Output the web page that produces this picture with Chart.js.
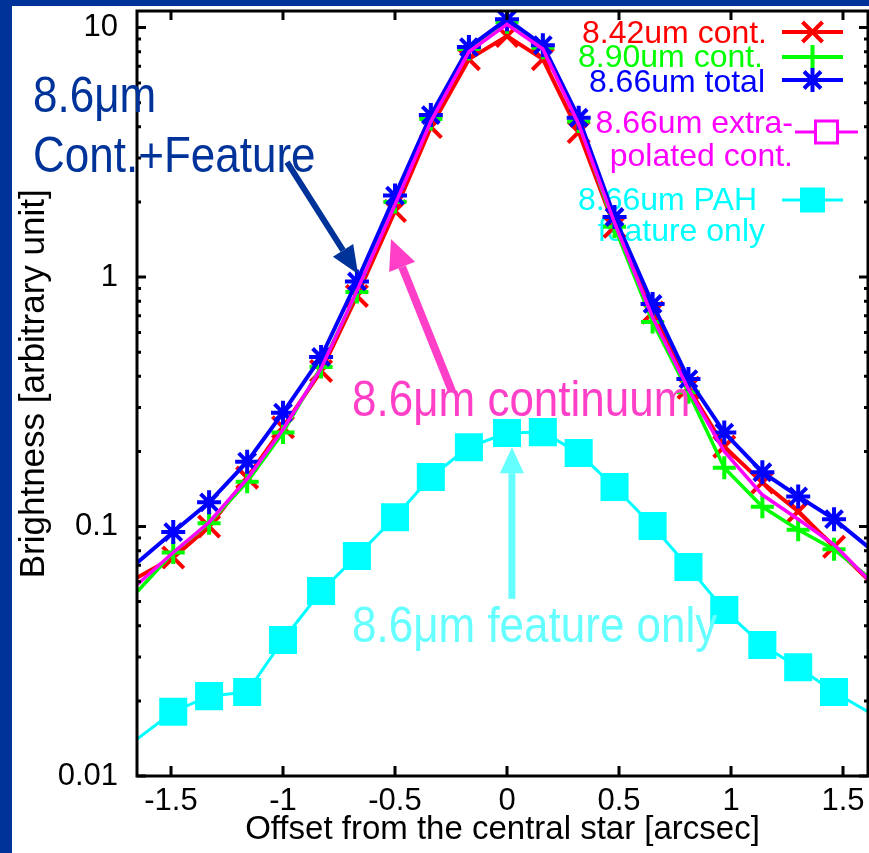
<!DOCTYPE html>
<html>
<head>
<meta charset="utf-8">
<script src="https://cdn.jsdelivr.net/npm/chart.js@4.4.1/dist/chart.umd.min.js"></script>
<style>
  html, body { margin: 0; padding: 0; background: #003399; overflow: hidden; }
  #wrap { position: absolute; left: 12px; top: 6px; width: 857px; height: 847px; background: #fff; }
</style>
</head>
<body>
<div id="wrap"><canvas id="psf" width="857" height="847"></canvas></div>
<script>
// offset from the central star [arcsec]; first and last entries are the line ends beyond the markers
const offsets   = [-1.65, -1.49, -1.33, -1.16, -1.00, -0.83, -0.67, -0.50, -0.34, -0.17, 0.00, 0.16, 0.32, 0.48, 0.65, 0.81, 0.97, 1.14, 1.30, 1.46, 1.64];
const cont842   = [0.0624, 0.0751, 0.100, 0.157, 0.250, 0.420, 0.84, 1.84, 3.99, 7.47, 9.25, 7.47, 3.81, 1.59, 0.72, 0.360, 0.209, 0.150, 0.115, 0.083, 0.058];
const cont890   = [0.0549, 0.0787, 0.103, 0.151, 0.238, 0.436, 0.87, 2.00, 4.30, 8.20, 10.5, 8.30, 4.20, 1.59, 0.66, 0.345, 0.172, 0.120, 0.097, 0.081, 0.060];
const total866  = [0.0718, 0.095, 0.125, 0.182, 0.286, 0.478, 0.96, 2.12, 4.46, 8.35, 10.8, 8.50, 4.35, 1.74, 0.78, 0.390, 0.238, 0.165, 0.132, 0.107, 0.079];
const extrap866 = [0.0586, 0.0787, 0.104, 0.155, 0.245, 0.430, 0.88, 1.95, 4.20, 8.00, 10.3, 8.20, 4.10, 1.65, 0.69, 0.355, 0.200, 0.134, 0.107, 0.0847, 0.058];
const pah866    = [0.0141, 0.0181, 0.0209, 0.0217, 0.0351, 0.0551, 0.0762, 0.109, 0.158, 0.208, 0.237, 0.239, 0.197, 0.144, 0.1005, 0.0688, 0.0463, 0.0335, 0.0273, 0.0217, 0.0175];

const seriesNames = [['8.42um cont.'], ['8.90um cont.'], ['8.66um total'], ['8.66um extra-', 'polated cont.'], ['8.66um PAH', 'feature only']];
const xTitle = 'Offset from the central star [arcsec]';
const yTitle = '  Brightness [arbitrary unit]';  // two leading spaces nudge it up a bit

const FONT = "'Liberation Sans', Arial, sans-serif";
const isEdge = i => i === 0 || i === offsets.length - 1;
const pts = vals => offsets.map((x, i) => ({ x, y: vals[i] }));

// slide annotations, placed in data units
const notes = [
  { text: '8.6\u03bcm', x: -2.116, y: 4.58, color: '#003399' },
  { text: 'Cont.+Feature', x: -2.116, y: 2.64, color: '#003399' },
  { text: '8.6\u03bcm continuum', x: -0.692, y: 0.277, color: '#ff3fc8' },
  { text: '8.6\u03bcm feature only', x: -0.692, y: 0.0344, color: '#66ffff' }
];
const arrows = [
  { from: [-0.982, 2.89], to: [-0.665, 1.028], color: '#003399', width: 6, head: 28, half: 12 },
  { from: [-0.246, 0.349], to: [-0.518, 1.42], color: '#ff3fc8', width: 8, head: 30, half: 14 },
  { from: [0.022, 0.0513], to: [0.022, 0.208], color: '#66ffff', width: 7, head: 26, half: 12 }
];

function marker(ctx, style, x, y, r, fill) {
  const d = r * Math.SQRT1_2;
  ctx.beginPath();
  if (style === 'cross' || style === 'star') {
    ctx.moveTo(x - r, y); ctx.lineTo(x + r, y);
    ctx.moveTo(x, y - r); ctx.lineTo(x, y + r);
  }
  if (style === 'crossRot' || style === 'star') {
    const k = style === 'star' ? d : r;
    ctx.moveTo(x - k, y - k); ctx.lineTo(x + k, y + k);
    ctx.moveTo(x + k, y - k); ctx.lineTo(x - k, y + k);
  }
  if (style === 'rect') {
    ctx.rect(x - r, y - r, 2 * r, 2 * r);
    if (fill) { ctx.fill(); return; }
  }
  ctx.stroke();
}

const framePlugin = {
  id: 'frame',
  afterDatasetsDraw(chart) {
    const { ctx, chartArea: a, scales: { x, y } } = chart;
    ctx.save();
    ctx.strokeStyle = '#000';
    ctx.lineWidth = 3;
    ctx.strokeRect(a.left, a.top, a.right - a.left, a.bottom - a.top);
    ctx.beginPath();
    x.ticks.forEach(t => {
      const px = x.getPixelForValue(t.value);
      ctx.moveTo(px, a.bottom); ctx.lineTo(px, a.bottom - 10);
      ctx.moveTo(px, a.top); ctx.lineTo(px, a.top + 9);
    });
    y.ticks.forEach(t => {
      const e = Math.floor(Math.log10(t.value) + 1e-9);
      const m = t.value / Math.pow(10, e);
      if (Math.abs(m - Math.round(m)) > 1e-6) return;
      const len = Math.round(m) === 1 ? 9 : 4;
      const py = y.getPixelForValue(t.value);
      ctx.moveTo(a.left, py); ctx.lineTo(a.left + len, py);
      ctx.moveTo(a.right, py); ctx.lineTo(a.right - len, py);
    });
    ctx.stroke();
    ctx.restore();
  }
};

// gnuplot-like key: text right aligned, sample to the right
const keyPlugin = {
  id: 'key',
  beforeDatasetsDraw(chart) {
    const { ctx } = chart;
    const rows = [
      { style: 'crossRot', right: [755], base: [37], y: 26, x0: 770, x1: 831, r: 10, lw: 4 },
      { style: 'cross', right: [751], base: [61], y: 51, x0: 770, x1: 831, r: 12, lw: 4 },
      { style: 'star', right: [753], base: [86], y: 74, x0: 770, x1: 831, r: 12, lw: 4 },
      { style: 'rect', right: [781, 781], base: [127, 160], y: 126, x0: 783, x1: 846, r: 11, lw: 3, open: true },
      { style: 'rect', right: [745, 753], base: [204, 235], y: 194, x0: 770, x1: 831, r: 12.5, lw: 3 }
    ];
    ctx.save();
    ctx.font = '32px ' + FONT;
    ctx.textAlign = 'right';
    ctx.textBaseline = 'alphabetic';
    rows.forEach((row, i) => {
      const c = chart.data.datasets[i].borderColor;
      ctx.fillStyle = c;
      seriesNames[i].forEach((line, j) => ctx.fillText(line, row.right[j], row.base[j]));
      ctx.strokeStyle = c;
      ctx.lineWidth = row.lw;
      ctx.beginPath(); ctx.moveTo(row.x0, row.y); ctx.lineTo(row.x1, row.y); ctx.stroke();
      const mx = (row.x0 + row.x1) / 2;
      if (row.open) {
        ctx.fillStyle = '#fff';
        ctx.fillRect(mx - row.r, row.y - row.r, 2 * row.r, 2 * row.r);
        marker(ctx, 'rect', mx, row.y, row.r, false);
      } else {
        ctx.fillStyle = c;
        ctx.lineWidth = 4;
        marker(ctx, row.style, mx, row.y, row.r, true);
      }
    });
    ctx.restore();
  }
};

const notesPlugin = {
  id: 'notes',
  afterDraw(chart) {
    const { ctx, scales: { x, y } } = chart;
    ctx.save();
    arrows.forEach(a => {
      const x0 = x.getPixelForValue(a.from[0]), y0 = y.getPixelForValue(a.from[1]);
      const x1 = x.getPixelForValue(a.to[0]), y1 = y.getPixelForValue(a.to[1]);
      const ang = Math.atan2(y1 - y0, x1 - x0);
      const bx = x1 - a.head * Math.cos(ang), by = y1 - a.head * Math.sin(ang);
      ctx.strokeStyle = a.color;
      ctx.fillStyle = a.color;
      ctx.lineWidth = a.width;
      ctx.beginPath(); ctx.moveTo(x0, y0); ctx.lineTo(bx, by); ctx.stroke();
      ctx.beginPath();
      ctx.moveTo(x1, y1);
      ctx.lineTo(bx + a.half * Math.sin(ang), by - a.half * Math.cos(ang));
      ctx.lineTo(bx - a.half * Math.sin(ang), by + a.half * Math.cos(ang));
      ctx.closePath();
      ctx.fill();
    });
    notes.forEach(n => {
      ctx.save();
      ctx.translate(x.getPixelForValue(n.x), y.getPixelForValue(n.y));
      ctx.scale(1, 1.12);
      ctx.font = '44px ' + FONT;
      ctx.fillStyle = n.color;
      ctx.textAlign = 'left';
      ctx.textBaseline = 'alphabetic';
      ctx.fillText(n.text, 0, 0);
      ctx.restore();
    });
    ctx.restore();
  }
};

const lineSet = (label, vals, color, width, style, radius, order) => ({
  label,
  data: pts(vals),
  borderColor: color,
  backgroundColor: color,
  borderWidth: width,
  pointStyle: style,
  pointRadius: c => isEdge(c.dataIndex) ? 0 : radius,
  pointBorderWidth: 4,
  pointBorderColor: color,
  pointBackgroundColor: color,
  tension: 0,
  fill: false,
  order
});

const ctx = document.getElementById('psf').getContext('2d');
new Chart(ctx, {
  type: 'line',
  data: {
    datasets: [
      lineSet(seriesNames[0].join(' '), cont842, '#ff0000', 4, 'crossRot', 15, 5),
      lineSet(seriesNames[1].join(' '), cont890, '#00ff00', 3.5, 'cross', 11.5, 4),
      lineSet(seriesNames[2].join(' '), total866, '#0000ff', 4, 'star', 12, 3),
      lineSet(seriesNames[3].join(''), extrap866, '#ff00ff', 3.5, 'rect', 0, 2),
      lineSet(seriesNames[4].join(' '), pah866, '#00ffff', 3, 'rect', 17, 1)
    ]
  },
  options: {
    responsive: false,
    animation: false,
    events: [],
    layout: { padding: { left: 0, right: 1, top: 5, bottom: 0 } },
    plugins: { legend: { display: false }, tooltip: { enabled: false } },
    scales: {
      x: {
        type: 'linear',
        min: -1.6518,
        max: 1.6116,
        grid: { display: false, drawTicks: false },
        border: { display: false },
        ticks: {
          stepSize: 0.5,
          includeBounds: false,
          autoSkip: false,
          maxRotation: 0,
          padding: 7,
          color: '#000',
          font: { family: FONT, size: 31 },
          callback: v => String(Math.round(v * 10) / 10)
        },
        title: {
          display: true,
          text: xTitle,
          color: '#000',
          font: { family: FONT, size: 33 },
          padding: { top: 0, bottom: 3 }
        },
        afterFit: s => { s.height = 77; s.paddingLeft = 0; s.paddingRight = 0; }
      },
      y: {
        type: 'logarithmic',
        min: 0.01,
        max: 11.65,
        grid: { display: false, drawTicks: false },
        border: { display: false },
        ticks: {
          autoSkip: false,
          padding: 19,
          color: '#000',
          font: { family: FONT, size: 31 },
          callback: v => {
            const l = Math.log10(v);
            return Math.abs(l - Math.round(l)) < 1e-6 ? String(+v.toPrecision(1)) : '';
          }
        },
        title: {
          display: true,
          text: yTitle,
          color: '#000',
          font: { family: FONT, size: 35 },
          padding: { top: 1, bottom: 0 }
        },
        afterFit: s => { s.width = 125; s.paddingTop = 0; s.paddingBottom = 0; }
      }
    }
  },
  plugins: [keyPlugin, framePlugin, notesPlugin]
});
</script>
</body>
</html>
